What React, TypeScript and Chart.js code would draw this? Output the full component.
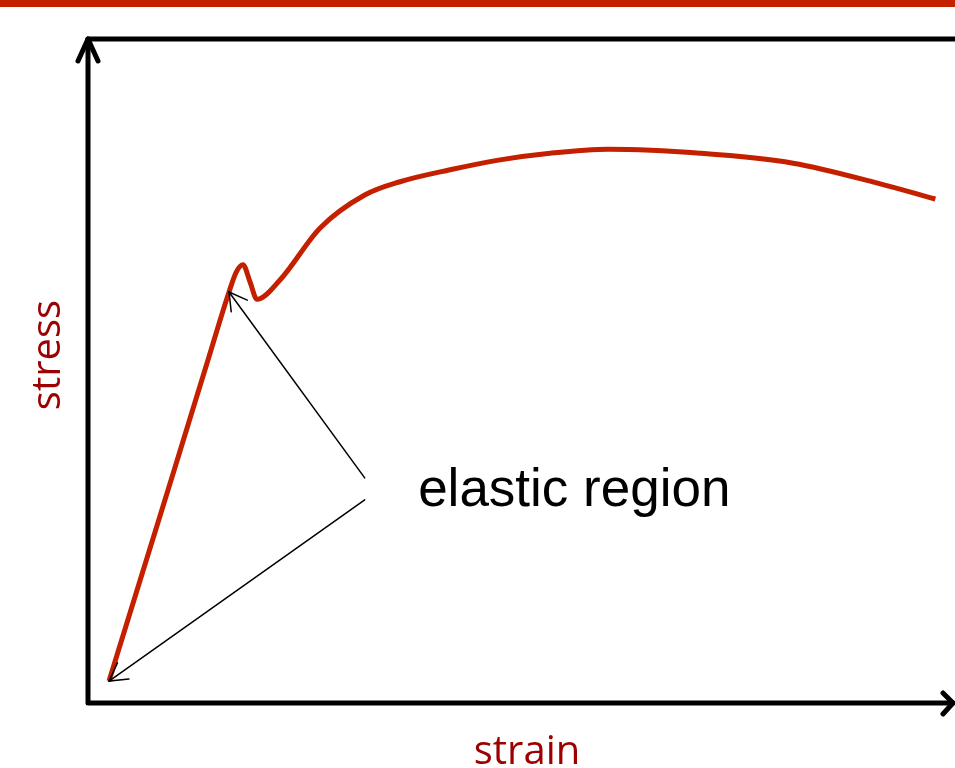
import { useEffect, useRef } from "react";
import { Chart, registerables } from "chart.js";

Chart.register(...registerables);

// strain (x) and stress (y) in arbitrary units, 0..100
const strainValues = [2.44, 6.0, 10.0, 14.0, 16.36, 17.2, 17.98, 18.8, 19.6, 22.27, 26.9, 32.1, 36.2, 42.0, 47.8, 53.6, 60.4, 71.0, 81.8, 91.6, 98.3];
const stressValues = [3.31, 18.3, 35.1, 52.0, 61.9, 64.9, 66.0, 63.4, 60.8, 63.7, 71.5, 76.5, 78.5, 80.3, 81.8, 82.8, 83.4, 82.8, 81.3, 78.3, 75.9];

const xAxisLabel = "strain";
const yAxisLabel = "stress";
const annotationLabel = "elastic region";
const annotationAnchor = [38.3, 29.7];
// arrow tails in data units, and the index of the data point each arrow points at
const arrowTailX = [32.1, 32.1];
const arrowTailY = [33.9, 30.6];
const arrowTargetIndex = [4, 0];

const RED = "#C42000";
const LABEL_RED = "#9C0000";

function arrowHead(ctx: CanvasRenderingContext2D, fx: number, fy: number, tx: number, ty: number, len: number, ang: number) {
  const a = Math.atan2(ty - fy, tx - fx);
  ctx.beginPath();
  ctx.moveTo(tx - len * Math.cos(a - ang), ty - len * Math.sin(a - ang));
  ctx.lineTo(tx, ty);
  ctx.lineTo(tx - len * Math.cos(a + ang), ty - len * Math.sin(a + ang));
  ctx.stroke();
}

const decorPlugin = {
  id: "decor",
  beforeDraw(chart: any) {
    const ctx = chart.ctx as CanvasRenderingContext2D;
    ctx.save();
    ctx.fillStyle = "#ffffff";
    ctx.fillRect(0, 0, chart.width, chart.height);
    ctx.fillStyle = RED;
    ctx.fillRect(0, 0, chart.width, 7);
    ctx.restore();
  },
  beforeDatasetsDraw(chart: any) {
    const ctx = chart.ctx as CanvasRenderingContext2D;
    const { left, top, bottom } = chart.chartArea;
    const w = chart.width;
    ctx.save();
    ctx.strokeStyle = "#000000";
    ctx.lineWidth = 5;
    ctx.lineCap = "round";
    ctx.lineJoin = "round";
    // top frame line
    ctx.beginPath();
    ctx.moveTo(left, top);
    ctx.lineTo(w + 5, top);
    ctx.stroke();
    // axes
    ctx.beginPath();
    ctx.moveTo(left, top);
    ctx.lineTo(left, bottom);
    ctx.lineTo(w - 2, bottom);
    ctx.stroke();
    // y arrow head
    ctx.beginPath();
    ctx.moveTo(left - 10, top + 22);
    ctx.lineTo(left, top);
    ctx.lineTo(left + 10, top + 22);
    ctx.stroke();
    // x arrow head
    ctx.beginPath();
    ctx.moveTo(w - 12, bottom - 10);
    ctx.lineTo(w - 2, bottom);
    ctx.lineTo(w - 12, bottom + 11);
    ctx.stroke();

    // axis titles
    ctx.fillStyle = LABEL_RED;
    ctx.font = "40px 'Open Sans'";
    ctx.textAlign = "center";
    ctx.textBaseline = "alphabetic";
    ctx.fillText(xAxisLabel, (left + chart.chartArea.right) / 2 + 8, 764);
    ctx.save();
    ctx.translate(60, (top + bottom) / 2 - 16);
    ctx.rotate(-Math.PI / 2);
    ctx.fillText(yAxisLabel, 0, 0);
    ctx.restore();
    ctx.restore();
  },
  afterDatasetsDraw(chart: any) {
    const ctx = chart.ctx as CanvasRenderingContext2D;
    const xs = chart.scales.x;
    const ys = chart.scales.y;
    ctx.save();
    ctx.strokeStyle = "#000000";
    ctx.lineWidth = 1.5;
    ctx.lineCap = "round";
    for (let i = 0; i < arrowTailX.length; i++) {
      const fx = xs.getPixelForValue(arrowTailX[i]);
      const fy = ys.getPixelForValue(arrowTailY[i]);
      const idx = arrowTargetIndex[i];
      const tx = xs.getPixelForValue(strainValues[idx]);
      const ty = ys.getPixelForValue(stressValues[idx]);
      ctx.beginPath();
      ctx.moveTo(fx, fy);
      ctx.lineTo(tx, ty);
      ctx.stroke();
      arrowHead(ctx, fx, fy, tx, ty, 20, 0.52);
    }
    ctx.fillStyle = "#000000";
    ctx.font = "53px 'Liberation Sans', Arial, sans-serif";
    ctx.textAlign = "left";
    ctx.textBaseline = "alphabetic";
    ctx.fillText(annotationLabel, xs.getPixelForValue(annotationAnchor[0]), ys.getPixelForValue(annotationAnchor[1]));
    ctx.restore();
  },
};

export default function App() {
  const ref = useRef<HTMLCanvasElement | null>(null);
  useEffect(() => {
    if (!ref.current) return;
    const chart = new Chart(ref.current, {
      type: "line",
      data: {
        datasets: [
          {
            data: strainValues.map((x, i) => ({ x, y: stressValues[i] })),
            borderColor: RED,
            borderWidth: 5,
            pointRadius: 0,
            fill: false,
            cubicInterpolationMode: "monotone",
            borderCapStyle: "butt",
          },
        ],
      },
      options: {
        responsive: false,
        animation: false,
        events: [],
        layout: { padding: { left: 88, right: 5, top: 39, bottom: 65 } },
        scales: {
          x: { type: "linear", min: 0, max: 100, display: false },
          y: { type: "linear", min: 0, max: 100, display: false },
        },
        plugins: { legend: { display: false }, tooltip: { enabled: false } },
      },
      plugins: [decorPlugin],
    } as any);
    return () => chart.destroy();
  }, []);
  return (
    <div style={{ position: "absolute", left: 0, top: 0, width: 955, height: 768 }}>
      <canvas ref={ref} width={955} height={768} style={{ display: "block" }} />
    </div>
  );
}
